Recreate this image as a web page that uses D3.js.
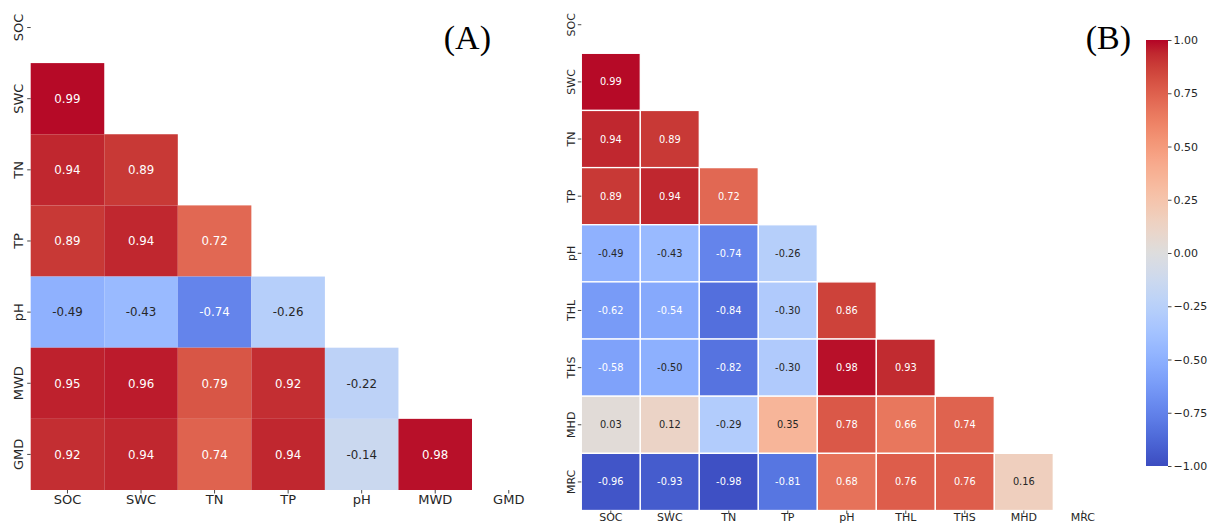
<!DOCTYPE html>
<html>
<head>
<meta charset="utf-8">
<script src="https://cdn.jsdelivr.net/npm/d3@7"></script>
<style>
  body { margin: 0; background: #fff; }
  svg { display: block; }
  text { font-family: "DejaVu Sans", sans-serif; }
  text.tag { font-family: "Liberation Serif", "Times New Roman", serif; }
</style>
</head>
<body>
<svg id="chart" width="1208" height="523"></svg>
<script>
// Variables and lower-triangle correlation coefficients, panel A
const varsA = ["SOC", "SWC", "TN", "TP", "pH", "MWD", "GMD"];
const lowerA = [
  [],
  [0.99],
  [0.94, 0.89],
  [0.89, 0.94, 0.72],
  [-0.49, -0.43, -0.74, -0.26],
  [0.95, 0.96, 0.79, 0.92, -0.22],
  [0.92, 0.94, 0.74, 0.94, -0.14, 0.98]
];

// Variables and lower-triangle correlation coefficients, panel B
const varsB = ["SOC", "SWC", "TN", "TP", "pH", "THL", "THS", "MHD", "MRC"];
const lowerB = [
  [],
  [0.99],
  [0.94, 0.89],
  [0.89, 0.94, 0.72],
  [-0.49, -0.43, -0.74, -0.26],
  [-0.62, -0.54, -0.84, -0.30, 0.86],
  [-0.58, -0.50, -0.82, -0.30, 0.98, 0.93],
  [0.03, 0.12, -0.29, 0.35, 0.78, 0.66, 0.74],
  [-0.96, -0.93, -0.98, -0.81, 0.68, 0.76, 0.76, 0.16]
];

const colorbarTicks = [1.00, 0.75, 0.50, 0.25, 0.00, -0.25, -0.50, -0.75, -1.00];

// Diverging "coolwarm" colour samples (Moreland), evenly spaced over [0, 1]
const coolwarmSamples = [
  [59,76,192],[68,90,204],[77,104,215],[87,117,225],[98,130,234],[108,142,241],
  [119,154,247],[130,165,251],[141,176,254],[152,185,255],[163,194,255],[174,201,253],
  [184,208,249],[194,213,244],[204,217,238],[213,219,230],[221,221,221],[229,216,209],
  [236,211,197],[241,204,184],[245,196,172],[247,187,160],[247,177,148],[247,166,137],
  [244,154,123],[241,141,111],[236,127,99],[229,112,89],[222,96,77],[213,80,66],
  [203,62,56],[192,40,47],[180,4,38]
];

const coolwarm = d3.scaleLinear()
  .domain(coolwarmSamples.map((_, i) => i / (coolwarmSamples.length - 1)))
  .range(coolwarmSamples.map(c => `rgb(${c[0]},${c[1]},${c[2]})`))
  .interpolate(d3.interpolateRgb)
  .clamp(true);

const valueToColor = v => coolwarm((v + 1) / 2);

// Pick dark or white annotation text from the cell's relative luminance
function textColorFor(fill) {
  const c = d3.rgb(fill);
  const lin = x => { x /= 255; return x <= 0.03928 ? x / 12.92 : Math.pow((x + 0.055) / 1.055, 2.4); };
  const lum = 0.2126 * lin(c.r) + 0.7152 * lin(c.g) + 0.0722 * lin(c.b);
  return lum > 0.408 ? "#262626" : "#ffffff";
}

const svg = d3.select("#chart");
svg.append("rect").attr("width", 1208).attr("height", 523).attr("fill", "#fff");

function drawPanel(cfg) {
  const n = cfg.vars.length;
  const x = d3.scaleBand().domain(cfg.vars).range([cfg.left, cfg.left + n * cfg.cellW]);
  const y = d3.scaleBand().domain(cfg.vars).range([cfg.bottom - n * cfg.cellH, cfg.bottom]);

  const cells = [];
  cfg.lower.forEach((row, i) => row.forEach((v, j) => cells.push({ r: cfg.vars[i], c: cfg.vars[j], v })));

  const g = svg.append("g");

  g.selectAll("rect.cell").data(cells).join("rect")
    .attr("class", "cell")
    .attr("x", d => x(d.c))
    .attr("y", d => y(d.r))
    .attr("width", x.bandwidth())
    .attr("height", y.bandwidth())
    .attr("fill", d => valueToColor(d.v))
    .attr("stroke", cfg.gridLine ? "#fff" : "none")
    .attr("stroke-width", cfg.gridLine || 0);

  g.selectAll("text.annot").data(cells).join("text")
    .attr("class", "annot")
    .attr("x", d => x(d.c) + x.bandwidth() / 2)
    .attr("y", d => y(d.r) + y.bandwidth() / 2)
    .attr("dy", "0.36em")
    .attr("text-anchor", "middle")
    .attr("font-size", cfg.annotSize)
    .attr("fill", d => textColorFor(valueToColor(d.v)))
    .text(d => d.v.toFixed(2));

  // Bottom axis
  const ax = g.append("g")
    .attr("transform", `translate(0,${cfg.bottom})`)
    .call(d3.axisBottom(x).tickSize(3.5).tickSizeOuter(0));
  ax.select(".domain").remove();
  ax.selectAll(".tick line").attr("stroke", "#333").attr("stroke-width", 0.9);
  ax.selectAll(".tick text")
    .attr("y", cfg.xLabelOffset)
    .attr("dy", "0.75em")
    .attr("font-size", cfg.tickSize)
    .attr("fill", "#262626");

  // Left axis with vertical labels
  const ay = g.append("g")
    .attr("transform", `translate(${cfg.left},0)`)
    .call(d3.axisLeft(y).tickSize(3.5).tickSizeOuter(0));
  ay.select(".domain").remove();
  ay.selectAll(".tick line").attr("stroke", "#333").attr("stroke-width", 0.9);
  ay.selectAll(".tick text")
    .attr("transform", "rotate(-90)")
    .attr("x", 0)
    .attr("y", -cfg.yLabelOffset)
    .attr("dy", 0)
    .attr("text-anchor", "middle")
    .attr("font-size", cfg.tickSize)
    .attr("fill", "#262626");

  // Panel tag
  svg.append("text")
    .attr("class", "tag")
    .attr("x", cfg.tagX)
    .attr("y", 49)
    .attr("text-anchor", "end")
    .attr("font-size", 34)
    .attr("fill", "#000")
    .text(cfg.tag);
}

drawPanel({
  vars: varsA, lower: lowerA,
  left: 30.7, cellW: 73.55, bottom: 490, cellH: 71.15,
  tickSize: 13, annotSize: 11.8, xLabelOffset: 4, yLabelOffset: 7.5,
  gridLine: 0, tag: "(A)", tagX: 491
});

drawPanel({
  vars: varsB, lower: lowerB,
  left: 581.3, cellW: 59, bottom: 510.5, cellH: 57.15,
  tickSize: 11, annotSize: 9.8, xLabelOffset: 2, yLabelOffset: 6.5,
  gridLine: 1.3, tag: "(B)", tagX: 1131
});

// Colour bar
const cbX = 1146, cbW = 22, cbTop = 40, cbBottom = 466;
const cbScale = d3.scaleLinear().domain([-1, 1]).range([cbBottom, cbTop]);

const grad = svg.append("defs").append("linearGradient")
  .attr("id", "cbGrad").attr("x1", 0).attr("y1", 1).attr("x2", 0).attr("y2", 0);
d3.range(0, 1.0001, 1 / 64).forEach(t => {
  grad.append("stop").attr("offset", t).attr("stop-color", coolwarm(t));
});

svg.append("rect")
  .attr("x", cbX).attr("y", cbTop)
  .attr("width", cbW).attr("height", cbBottom - cbTop)
  .attr("fill", "url(#cbGrad)");

const cbAxis = svg.append("g")
  .attr("transform", `translate(${cbX + cbW},0)`)
  .call(d3.axisRight(cbScale).tickValues(colorbarTicks).tickFormat(d3.format(".2f")).tickSize(3.5).tickPadding(2));
cbAxis.select(".domain").remove();
cbAxis.selectAll(".tick line").attr("stroke", "#333").attr("stroke-width", 0.9);
cbAxis.selectAll(".tick text")
  .attr("font-size", 11)
  .attr("fill", "#262626");
</script>
</body>
</html>
